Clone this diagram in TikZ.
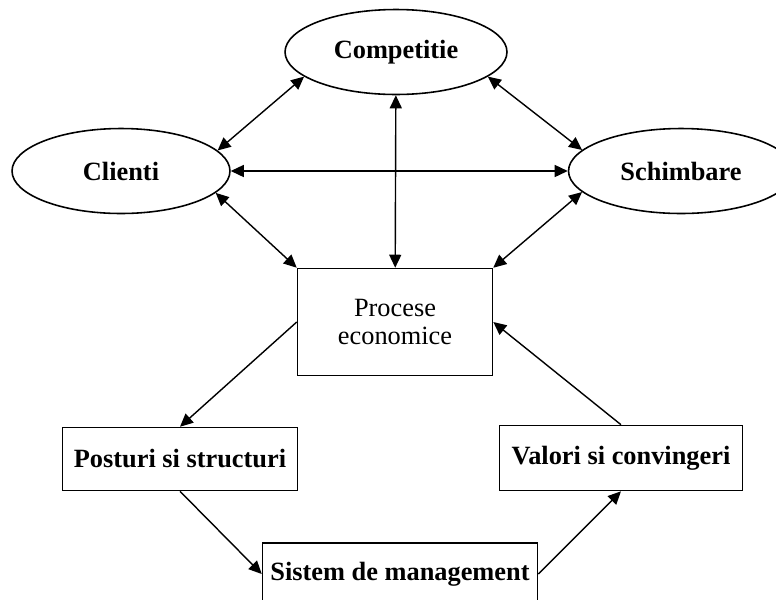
\documentclass[tikz,border=0pt]{standalone}
\usepackage{fontspec}
\setmainfont{Liberation Serif}
\usetikzlibrary{arrows.meta, shapes.geometric}
\newcommand{\diagfont}{\fontsize{15}{16.4}\selectfont}
\newcommand{\factor}[4]{%
  \node[ellipse, draw, line width=0.9pt, minimum width=#3, minimum height=1.7cm,
        inner sep=0pt, font=\diagfont\bfseries] (#1) at #2 {#4};
}
\newcommand{\bloc}[5]{%
  \node[rectangle, draw, line width=0.9pt, minimum width=#3, minimum height=#4,
        inner sep=0pt, align=center, font=\diagfont] (#1) at #2 {#5};
}

\begin{document}
\begin{tikzpicture}[x=0.02cm, y=-0.02cm, line width=0.8pt,
      >={Triangle[length=2.6mm, width=2.4mm]}]
    \useasboundingbox (0,0) rectangle (776,599);
    \clip (0,0) rectangle (776,599);
    \factor{comp}{(396,52)}{4.44cm}{Competitie}
    \factor{cli}{(121,171)}{4.36cm}{Clienti}
    \factor{sch}{(681,171)}{4.5cm}{Schimbare}
    \bloc{proc}{(395,322)}{3.9cm}{2.14cm}{Procese\\economice}
    \bloc{post}{(180,459)}{4.7cm}{1.26cm}{\bfseries Posturi si structuri}
    \bloc{val}{(621,458)}{4.86cm}{1.3cm}{\bfseries Valori si convingeri}
    \bloc{sis}{(400,574)}{5.5cm}{1.24cm}{\bfseries Sistem de management}
    \draw[<->] (cli.12) -- (comp.195);
    \draw[<->] (comp.345) -- (sch.168);
    \draw[<->] (cli) -- (sch);
    \draw[<->] (comp) -- (proc);
    \draw[<->] (cli.-13) -- (proc.north west);
    \draw[<->] (sch.192) -- (proc.north east);
    \draw[->] (proc.west) -- (post.north);
    \draw[->] (val.north) -- (proc.east);
    \draw[->] (post.south) -- (sis.west);
    \draw[->] (sis.east) -- (val.south);
\end{tikzpicture}
\end{document}
